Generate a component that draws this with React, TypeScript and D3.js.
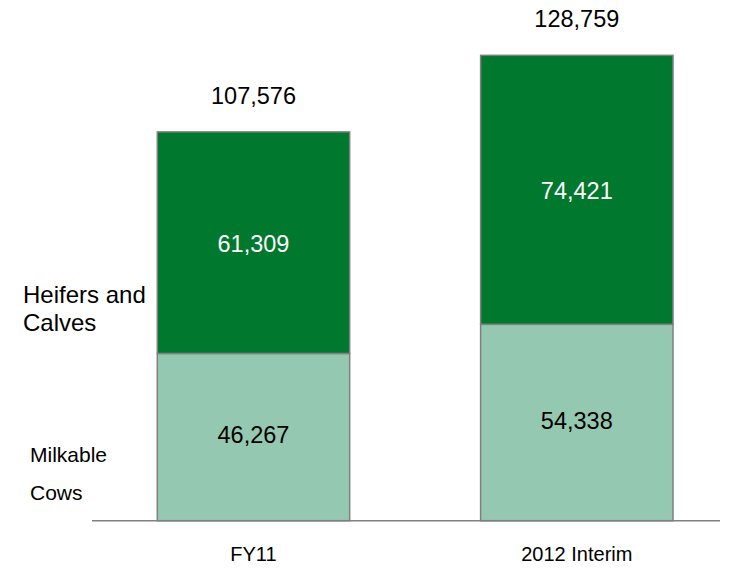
import React from "react";
import * as d3 from "d3";

const categories = ["FY11", "2012 Interim"];
const milkableCows = [46267, 54338];
const heifersCalves = [61309, 74421];
const totals = [107576, 128759];
const seriesNames = ["Milkable Cows", "Heifers and Calves"];

const W = 746;
const H = 570;
const fmt = d3.format(",");

export default function App() {
  const x = d3.scaleBand<string>().domain(categories).range([157.3, 673]).paddingInner(0.405).paddingOuter(0);
  const y = d3.scaleLinear().domain([0, 133000]).range([520.7, 40]);
  const font = "'Liberation Sans', Arial, sans-serif";
  const dark = "#00782E";
  const light = "#95C8B0";
  const stroke = "#808080";

  return (
    <svg width={W} height={H} style={{ position: "absolute", left: 0, top: 0, background: "#fff" }} fontFamily={font}>
      {categories.map((c, i) => {
        const x0 = x(c)!;
        const bw = x.bandwidth();
        const cx = x0 + bw / 2;
        const yBase = y(0);
        const yMid = y(milkableCows[i]);
        const yTop = y(milkableCows[i] + heifersCalves[i]);
        return (
          <g key={c}>
            <rect x={x0} y={yMid} width={bw} height={yBase - yMid} fill={light} stroke={stroke} strokeWidth={1.5} />
            <rect x={x0} y={yTop} width={bw} height={yMid - yTop} fill={dark} stroke={stroke} strokeWidth={1.5} />
            <text x={cx} y={(yMid + yBase) / 2 + 6} textAnchor="middle" fontSize={23.5} fill="#000">
              {fmt(milkableCows[i])}
            </text>
            <text x={cx} y={(yTop + yMid) / 2 + 9} textAnchor="middle" fontSize={23.5} fill="#fff">
              {fmt(heifersCalves[i])}
            </text>
            <text x={cx} y={y(totals[i]) - 28} textAnchor="middle" fontSize={23.5} fill="#000">
              {fmt(totals[i])}
            </text>
            <text x={cx} y={561} textAnchor="middle" fontSize={20} fill="#000">
              {c}
            </text>
          </g>
        );
      })}
      <line x1={92} x2={720} y1={y(0)} y2={y(0)} stroke={stroke} strokeWidth={1.5} />
      <text x={23} y={302.5} fontSize={24} fill="#000">Heifers and</text>
      <text x={23} y={331} fontSize={24} fill="#000">Calves</text>
      <text x={30} y={462} fontSize={21} fill="#000">Milkable</text>
      <text x={30} y={500} fontSize={21} fill="#000">Cows</text>
    </svg>
  );
}
